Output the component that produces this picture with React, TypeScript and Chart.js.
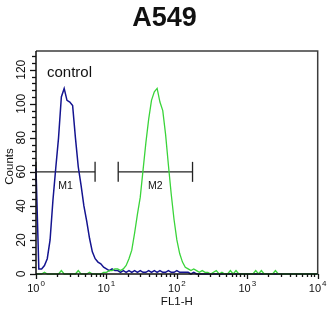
import React, { useEffect, useRef } from 'react';
import { Chart, registerables } from 'chart.js';

Chart.register(...registerables);

// ---------- data ----------
const TITLE = 'A549';
const X_TITLE = 'FL1-H';
const Y_TITLE = 'Counts';
const SAMPLE_LABEL = 'control';

// histogram bins: one bin every 0.04 decade from 10^0 to 10^4
const BIN_STEP_DECADES = 0.04;

// control (blue) counts per bin
const controlCounts = [
  62, 3, 3, 5, 9, 20, 43, 62, 80, 104,
  109, 102, 101, 99, 80, 63, 52, 40, 31, 21,
  13, 9, 7, 6, 4, 3, 2, 3, 2, 2,
  1, 2, 1, 2, 1, 2, 1, 2, 1, 1,
  2, 1, 2, 1, 2, 1, 1, 2, 1, 1,
  2, 1, 1, 1, 1, 0, 1, 0, 0, 0,
  0, 0, 0, 0, 0, 0, 0, 0, 0, 0,
  0, 0, 0, 0, 0, 0, 0, 0, 0, 0,
  0, 0, 0, 0, 0, 0, 0, 0, 0, 0,
  0, 0, 0, 0, 0, 0, 0, 0, 0, 0,
  0,
];

// antibody-stained sample (green) counts per bin
const sampleCounts = [
  0, 0, 0, 1, 0, 0, 0, 0, 0, 2,
  0, 0, 0, 0, 0, 2, 0, 0, 0, 1,
  0, 0, 0, 0, 1, 1, 2, 2, 3, 3,
  2, 3, 5, 9, 14, 24, 35, 45, 61, 77,
  91, 102, 107, 109, 101, 96, 82, 64, 47, 32,
  20, 12, 7, 4, 3, 2, 3, 2, 1, 2,
  1, 1, 0, 1, 2, 0, 1, 0, 0, 2,
  0, 2, 0, 0, 0, 0, 0, 0, 2, 0,
  2, 0, 0, 0, 0, 2, 0, 0, 0, 0,
  0, 0, 0, 0, 0, 0, 0, 0, 0, 0,
  0,
];

const xMajorExponents = [0, 1, 2, 3, 4];
const yTickValues = [0, 20, 40, 60, 80, 100, 120];
const yMinorStep = 4;
const X_MIN = 1;
const X_MAX = 10000;
const Y_MAX = 131;

const markerNames = ['M1', 'M2'];
const markerStarts = [1, 14.7];
const markerEnds = [6.9, 167];
const markerLevel = 60;

// ---------- styling ----------
const FONT = '"Liberation Sans", Arial, Helvetica, sans-serif';
const BLUE = '#141490';
const GREEN = '#3ad43a';

const toPoints = (counts: number[]) =>
  counts.map((c, i) => ({ x: Math.pow(10, i * BIN_STEP_DECADES), y: c }));

const decorPlugin = {
  id: 'decor',
  afterDatasetsDraw(chart: any) {
    const { ctx, chartArea: a } = chart;
    const xs = chart.scales.x;
    const ys = chart.scales.y;
    ctx.save();

    // frame (top/right grey, left/bottom axis dark)
    ctx.lineWidth = 1.5;
    ctx.strokeStyle = '#3c3c3c';
    ctx.beginPath();
    ctx.moveTo(a.left, a.top);
    ctx.lineTo(a.right, a.top);
    ctx.lineTo(a.right, a.bottom);
    ctx.stroke();
    ctx.strokeStyle = '#111111';
    ctx.beginPath();
    ctx.moveTo(a.left, a.top);
    ctx.lineTo(a.left, a.bottom);
    ctx.lineTo(a.right, a.bottom);
    ctx.stroke();

    // y ticks
    ctx.lineWidth = 1.3;
    for (let v = 0; v <= Y_MAX; v += yMinorStep) {
      const py = Math.round(ys.getPixelForValue(v)) + 0.5;
      const major = yTickValues.includes(v);
      ctx.beginPath();
      ctx.moveTo(a.left - (major ? 6 : 4), py);
      ctx.lineTo(a.left, py);
      ctx.stroke();
    }
    // y labels (rotated)
    ctx.fillStyle = '#111';
    ctx.font = `12px ${FONT}`;
    ctx.textAlign = 'center';
    ctx.textBaseline = 'middle';
    yTickValues.forEach((v) => {
      ctx.save();
      ctx.translate(a.left - 14, ys.getPixelForValue(v));
      ctx.rotate(-Math.PI / 2);
      ctx.fillText(String(v), 0, 0);
      ctx.restore();
    });

    // x ticks (log)
    for (let e = 0; e < xMajorExponents.length; e++) {
      const base = Math.pow(10, xMajorExponents[e]);
      const mults = e === xMajorExponents.length - 1 ? [1] : [1, 2, 3, 4, 5, 6, 7, 8, 9];
      mults.forEach((m) => {
        const px = Math.round(xs.getPixelForValue(base * m)) + 0.5;
        const len = m === 1 ? 5 : 3;
        ctx.beginPath();
        ctx.moveTo(px, a.bottom);
        ctx.lineTo(px, a.bottom + len);
        ctx.stroke();
      });
    }
    // x labels 10^n
    ctx.textBaseline = 'alphabetic';
    ctx.textAlign = 'left';
    xMajorExponents.forEach((p) => {
      const px = xs.getPixelForValue(Math.pow(10, p));
      ctx.font = `11px ${FONT}`;
      const wBase = ctx.measureText('10').width;
      ctx.font = `8px ${FONT}`;
      const sup = String(p);
      const wSup = ctx.measureText(sup).width;
      const start = px - (wBase + wSup + 1) / 2;
      ctx.font = `11px ${FONT}`;
      ctx.fillText('10', start, a.bottom + 18);
      ctx.font = `8px ${FONT}`;
      ctx.fillText(sup, start + wBase + 1, a.bottom + 12);
    });

    // axis titles
    ctx.font = `11.5px ${FONT}`;
    ctx.textAlign = 'center';
    ctx.fillText(X_TITLE, (a.left + a.right) / 2, a.bottom + 31);
    ctx.save();
    ctx.translate(10, (a.top + a.bottom) / 2 + 4);
    ctx.rotate(-Math.PI / 2);
    ctx.textBaseline = 'middle';
    ctx.fillText(Y_TITLE, 0, 0);
    ctx.restore();

    // chart title
    ctx.font = `bold 27px ${FONT}`;
    ctx.textAlign = 'center';
    ctx.textBaseline = 'alphabetic';
    ctx.fillText(TITLE, chart.width / 2, 26);

    // sample label
    ctx.font = `15px ${FONT}`;
    ctx.textAlign = 'left';
    ctx.fillText(SAMPLE_LABEL, a.left + 11, a.top + 26);

    // marker labels
    ctx.font = `10.5px ${FONT}`;
    ctx.textAlign = 'center';
    ctx.textBaseline = 'middle';
    markerNames.forEach((name, i) => {
      const mid = Math.sqrt(markerStarts[i] * markerEnds[i]);
      ctx.fillText(name, xs.getPixelForValue(mid), ys.getPixelForValue(markerLevel) + 14.5);
    });

    ctx.restore();
  },
};

export default function App() {
  const ref = useRef<HTMLCanvasElement | null>(null);

  useEffect(() => {
    document.body.style.margin = '0';
    const canvas = ref.current;
    if (!canvas) return;

    const markerSets = markerNames.map((name, i) => ({
      label: name,
      data: [
        { x: markerStarts[i], y: markerLevel },
        { x: markerEnds[i], y: markerLevel },
      ],
      borderColor: '#222222',
      borderWidth: 1.3,
      pointStyle: 'line',
      pointRotation: 90,
      pointRadius: 10,
      pointBorderColor: '#222222',
      pointBorderWidth: 1.3,
      pointHoverRadius: 10,
      tension: 0,
      clip: false,
    }));

    const chart = new Chart(canvas, {
      type: 'line',
      data: {
        datasets: [
          {
            label: 'sample',
            data: toPoints(sampleCounts),
            borderColor: GREEN,
            borderWidth: 1.3,
            pointRadius: 0,
            tension: 0,
            clip: 3,
          },
          {
            label: SAMPLE_LABEL,
            data: toPoints(controlCounts),
            borderColor: BLUE,
            borderWidth: 1.5,
            pointRadius: 0,
            tension: 0,
            clip: 3,
          },
          ...markerSets,
        ] as any,
      },
      options: {
        responsive: false,
        animation: false,
        devicePixelRatio: 1,
        layout: { padding: { left: 36, right: 11, top: 51, bottom: 36 } },
        scales: {
          x: { type: 'logarithmic', min: X_MIN, max: X_MAX, display: false },
          y: { type: 'linear', min: 0, max: Y_MAX, display: false },
        },
        plugins: {
          legend: { display: false },
          tooltip: { enabled: false },
          title: { display: false },
        },
        events: [],
      } as any,
      plugins: [decorPlugin],
    });

    return () => chart.destroy();
  }, []);

  return (
    <div style={{ position: 'fixed', left: 0, top: 0, width: 329, height: 310, background: '#fff' }}>
      <canvas ref={ref} width={329} height={310} style={{ display: 'block' }} />
    </div>
  );
}
